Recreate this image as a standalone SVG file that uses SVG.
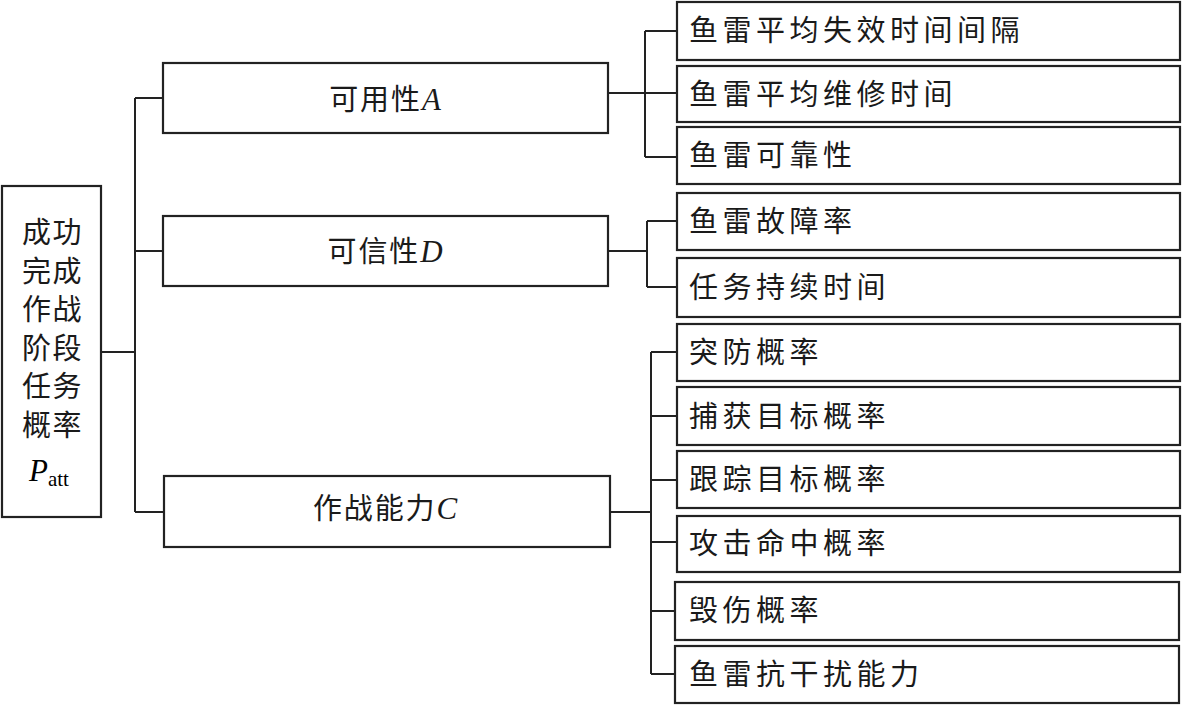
<svg xmlns="http://www.w3.org/2000/svg" width="1182" height="706" viewBox="0 0 1182 706">
<style>
.box{fill:#fff;stroke:#222;stroke-width:2.2}
.ln{fill:none;stroke:#222;stroke-width:2}
.t{font-family:"Noto Sans CJK SC","Liberation Serif",serif;font-size:29px;fill:#1a1a1a}
.leaf{letter-spacing:4.5px}
.mid{letter-spacing:1.9px}
.it{font-family:"Liberation Serif",serif;font-style:italic;font-size:31px}
.sub{font-family:"Liberation Serif",serif;font-size:21px}
</style>
<rect width="1182" height="706" fill="#fff"/>
<g id="connectors">
<path class="ln" d="M101,352H135M135,98V512M135,98H163M135,251H163M135,512H164"/>
<path class="ln" d="M608,93H677M645,31V157M645,31H677M645,157H677"/>
<path class="ln" d="M608,251H647M647,221V287M647,221H677M647,287H677"/>
<path class="ln" d="M610,512H651M651,352V674M651,352H677M651,416H677M651,480H677M651,542H677M651,611H675M651,674H675"/>
</g>
<g id="root">
<rect class="box" x="2" y="186" width="99" height="331"/>
<text class="t" x="22" y="243" letter-spacing="1.5">成功</text>
<text class="t" x="22" y="281.5" letter-spacing="1.5">完成</text>
<text class="t" x="22" y="320" letter-spacing="1.5">作战</text>
<text class="t" x="22" y="358.5" letter-spacing="1.5">阶段</text>
<text class="t" x="22" y="397" letter-spacing="1.5">任务</text>
<text class="t" x="22" y="435.5" letter-spacing="1.5">概率</text>
<text x="29" y="481"><tspan class="it">P</tspan><tspan class="sub" dy="5">att</tspan></text>
</g>
<g id="nodeA">
<rect class="box" x="163" y="63" width="445" height="70"/>
<text class="t mid" x="386" y="110" text-anchor="middle">可用性<tspan class="it">A</tspan></text>
</g>
<g id="nodeD">
<rect class="box" x="163" y="216" width="445" height="70"/>
<text class="t mid" x="386" y="262" text-anchor="middle">可信性<tspan class="it">D</tspan></text>
</g>
<g id="nodeC">
<rect class="box" x="164" y="476" width="446" height="71"/>
<text class="t mid" x="386" y="519" text-anchor="middle">作战能力<tspan class="it">C</tspan></text>
</g>
<g id="leaf1"><rect class="box" x="677" y="2" width="503" height="58"/><text class="t leaf" x="689" y="41">鱼雷平均失效时间间隔</text></g>
<g id="leaf2"><rect class="box" x="677" y="66" width="503" height="56"/><text class="t leaf" x="689" y="105">鱼雷平均维修时间</text></g>
<g id="leaf3"><rect class="box" x="677" y="127" width="503" height="57"/><text class="t leaf" x="689" y="166">鱼雷可靠性</text></g>
<g id="leaf4"><rect class="box" x="677" y="193" width="503" height="57"/><text class="t leaf" x="689" y="232">鱼雷故障率</text></g>
<g id="leaf5"><rect class="box" x="677" y="258" width="503" height="59"/><text class="t leaf" x="689" y="298">任务持续时间</text></g>
<g id="leaf6"><rect class="box" x="677" y="324" width="503" height="57"/><text class="t leaf" x="689" y="363">突防概率</text></g>
<g id="leaf7"><rect class="box" x="677" y="387" width="503" height="58"/><text class="t leaf" x="689" y="427">捕获目标概率</text></g>
<g id="leaf8"><rect class="box" x="677" y="451" width="503" height="57"/><text class="t leaf" x="689" y="490">跟踪目标概率</text></g>
<g id="leaf9"><rect class="box" x="677" y="516" width="503" height="56"/><text class="t leaf" x="689" y="554">攻击命中概率</text></g>
<g id="leaf10"><rect class="box" x="675" y="582" width="504" height="58"/><text class="t leaf" x="689" y="621">毁伤概率</text></g>
<g id="leaf11"><rect class="box" x="675" y="646" width="504" height="57"/><text class="t leaf" x="689" y="685">鱼雷抗干扰能力</text></g>
</svg>
